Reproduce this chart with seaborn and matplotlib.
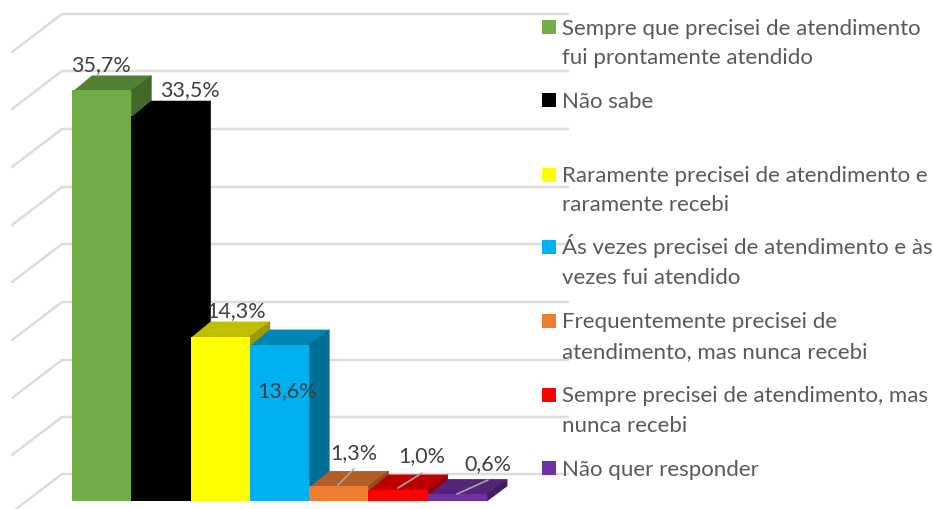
import matplotlib
matplotlib.use("Agg")
import matplotlib.pyplot as plt
from matplotlib.patches import Polygon, Rectangle
import pandas as pd
import seaborn as sns

# ---- data ----
categories = [
    "Sempre que precisei de atendimento\nfui prontamente atendido",
    "Não sabe",
    "Raramente precisei de atendimento e\nraramente recebi",
    "Ás vezes precisei de atendimento e às\nvezes fui atendido",
    "Frequentemente precisei de\natendimento, mas nunca recebi",
    "Sempre precisei de atendimento, mas\nnunca recebi",
    "Não quer responder",
]
values = [35.7, 33.5, 14.3, 13.6, 1.3, 1.0, 0.6]
value_labels = ["35,7%", "33,5%", "14,3%", "13,6%", "1,3%", "1,0%", "0,6%"]

front_colors = ["#70AD47", "#000000", "#FFFF00", "#00B0F0", "#ED7D31", "#FF0000", "#7030A0"]
top_colors = ["#548235", "#000000", "#BFBF00", "#0084B4", "#B25E25", "#BF0000", "#542478"]
side_colors = ["#43682B", "#000000", "#999900", "#006F98", "#8E4B1D", "#990000", "#431D60"]

# pixel layout of the original (y measured from the top)
W, H = 933, 509
BAR_LEFT = 72
BAR_W = 59.3
BASE_Y = 501
PX_PER_PCT = 11.5
DEPTH_X, DEPTH_Y = 20, 15
LINE_STEP = 29.3
wall_rows = [14, 71, 129, 187, 244, 302, 360, 417, 474]
label_xy = [(101, 65), (190, 90), (236, 311), (287, 391), (354, 453), (422, 456), (488, 464)]
leader_lines = [None, None, None, None,
                ((338, 485), (354, 469)), ((398, 488), (422, 473)), ((457, 494), (488, 480))]
legend_rows = [27, 100, 174.5, 247, 321, 395, 468]

sns.set_style("white")
plt.rcParams["font.family"] = ["Lato", "DejaVu Sans"]

df = pd.DataFrame({"cat": categories, "val": values})

fig = plt.figure(figsize=(W / 100, H / 100), dpi=100)
ax = fig.add_axes([0, 0, 1, 1])

sns.barplot(data=df, x="cat", y="val", hue="cat", palette=front_colors, saturation=1,
            width=1, dodge=False, legend=False, linewidth=0, ax=ax)

# full-figure axes, so one category = BAR_W px and one percent = PX_PER_PCT px
ax.set_xlim(-0.5 - BAR_LEFT / BAR_W, -0.5 + (W - BAR_LEFT) / BAR_W)
ax.set_ylim(-(H - BASE_Y) / PX_PER_PCT, BASE_Y / PX_PER_PCT)
ax.axis("off")


def px(x, y):
    return (-0.5 + (x - BAR_LEFT) / BAR_W, (BASE_Y - y) / PX_PER_PCT)


# back wall gridlines with the diagonal going down to the left
for row in wall_rows:
    p0, p1, p2 = px(12, row + 38), px(62, row), px(568, row)
    ax.plot([p0[0], p1[0], p2[0]], [p0[1], p1[1], p2[1]], color="#DCDCDC",
            lw=1.8, zorder=1, solid_joinstyle="miter")

# extruded top and side faces built on the seaborn bars
dx = DEPTH_X / BAR_W
dy = DEPTH_Y / PX_PER_PCT
seam = 1.5 / PX_PER_PCT  # faces run a little under the front so no white gap shows
bars = list(ax.patches)
for i, bar in enumerate(bars):
    x0 = bar.get_x()
    x1 = x0 + bar.get_width()
    h = bar.get_height()
    bar.set_zorder(3.5 + i)
    ax.add_patch(Polygon([(x0, h - seam), (x1, h - seam), (x1 + dx, h + dy), (x0 + dx, h + dy)],
                         facecolor=top_colors[i], edgecolor="none", zorder=3 + i))
    ax.add_patch(Polygon([(x1, 0), (x1 + dx, dy), (x1 + dx, h + dy), (x1, h)],
                         facecolor=side_colors[i], edgecolor=side_colors[i], lw=0.4, zorder=3 + i))

# leader lines and data labels
for line in leader_lines:
    if line:
        a, b = px(*line[0]), px(*line[1])
        ax.plot([a[0], b[0]], [a[1], b[1]], color="#A6A6A6", lw=1.2, zorder=20)
for text, (x, y) in zip(value_labels, label_xy):
    tx, ty = px(x, y)
    ax.text(tx, ty, text, ha="center", va="center", fontsize=15.5, color="#404040", zorder=21)

# legend drawn by hand, the entries are unevenly placed in the original
for cat, col, row in zip(categories, front_colors, legend_rows):
    lx, ly = px(542, row + 7)
    ax.add_patch(Rectangle((lx, ly), 14 / BAR_W, 14 / PX_PER_PCT, facecolor=col,
                           edgecolor="none", zorder=22))
    for j, part in enumerate(cat.split("\n")):
        tx, ty = px(562, row + 7.5 + j * LINE_STEP)
        ax.text(tx, ty, part, ha="left", va="baseline", fontsize=16, color="#595959", zorder=22)

fig.savefig("out.png", dpi=100)
